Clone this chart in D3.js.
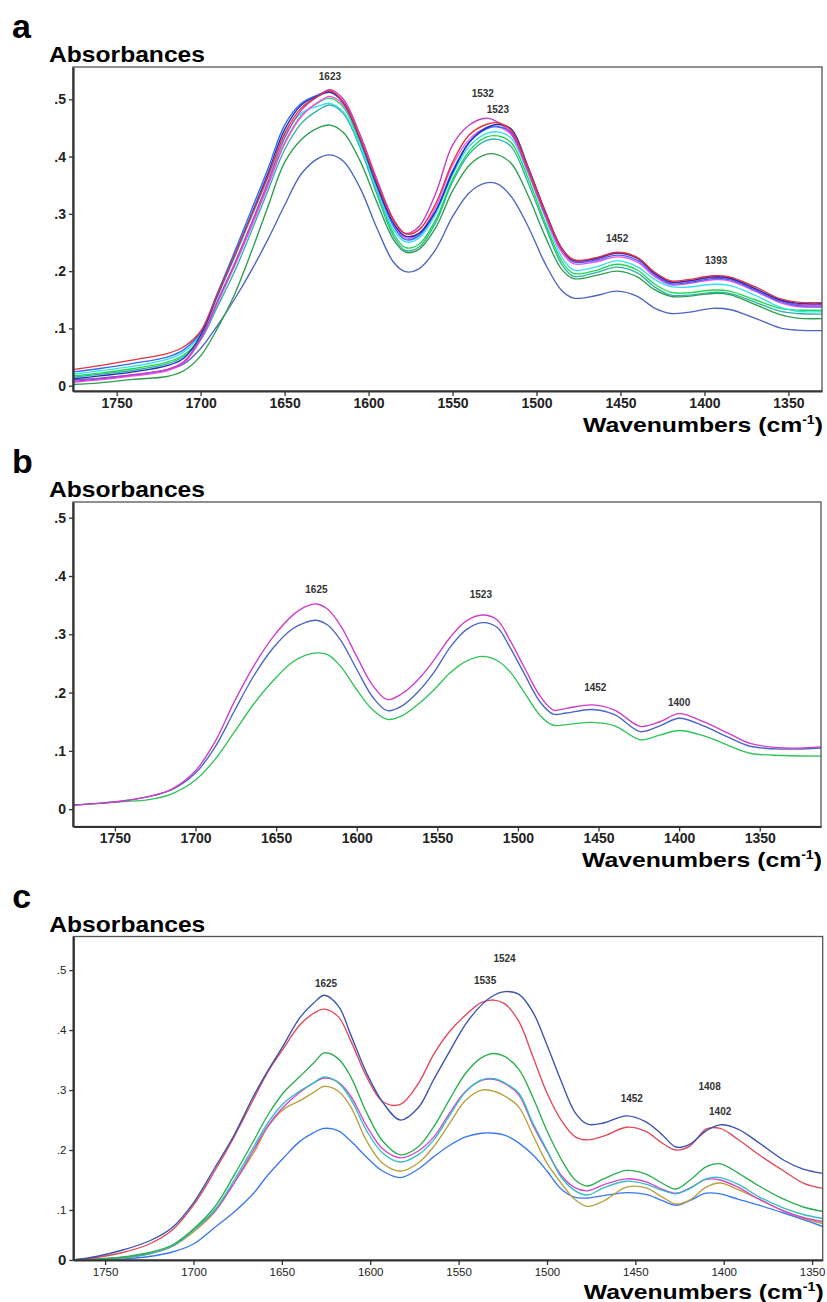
<!DOCTYPE html>
<html>
<head>
<meta charset="utf-8">
<script src="https://cdn.jsdelivr.net/npm/d3@7"></script>
<style>
  body { margin: 0; background: #fff; }
  text { font-family: Arial, 'Liberation Sans', sans-serif; }
</style>
</head>
<body>
<svg id="fig" width="827" height="1302"></svg>
<script>
'use strict';

/* global d3 */

// ---- panel a : wavenumbers (cm-1) and absorbance of each spectrum ----
var wavenumbersA = [1776, 1760, 1740, 1720, 1710, 1700, 1690, 1680, 1670, 1660, 1650, 1640, 1630, 1623,
  1615, 1605, 1595, 1585, 1578, 1570, 1560, 1550, 1540, 1530, 1523, 1515, 1505, 1495, 1485, 1478,
  1465, 1452, 1440, 1430, 1420, 1410, 1395, 1385, 1370, 1355, 1345, 1330];
var redA = [.028, .035, .045, .056, .068, .095, .160, .226, .295, .365, .440, .485, .505, .515,
  .495, .432, .355, .288, .265, .272, .318, .390, .438, .456, .459, .445, .380, .305, .240, .220,
  .223, .233, .224, .199, .183, .185, .192, .190, .173, .152, .146, .145];
var darkBlueA = [.012, .017, .024, .035, .048, .088, .158, .226, .297, .370, .447, .490, .506, .512,
  .494, .430, .350, .283, .261, .266, .305, .372, .425, .450, .456, .448, .382, .306, .240, .219,
  .222, .232, .223, .197, .181, .183, .190, .188, .170, .150, .144, .143];
var magentaA = [.008, .012, .019, .028, .042, .082, .148, .212, .282, .355, .432, .481, .506, .517,
  .500, .438, .360, .290, .266, .278, .336, .420, .455, .467, .460, .440, .375, .300, .237, .218,
  .221, .231, .222, .196, .180, .182, .189, .187, .169, .149, .142, .141];
var pinkA = [.006, .010, .017, .026, .040, .080, .145, .208, .276, .348, .422, .470, .495, .505,
  .490, .430, .352, .282, .258, .265, .312, .385, .430, .450, .452, .438, .373, .298, .233, .213,
  .216, .225, .216, .191, .176, .178, .185, .183, .165, .145, .138, .137];
var blueA = [.024, .030, .039, .050, .063, .093, .162, .232, .305, .378, .455, .493, .508, .513,
  .494, .430, .348, .278, .255, .262, .305, .375, .425, .448, .452, .442, .380, .305, .238, .216,
  .219, .228, .219, .194, .178, .180, .187, .185, .167, .147, .140, .139];
var cyanA = [.020, .026, .034, .046, .059, .090, .155, .222, .292, .362, .436, .476, .488, .493,
  .478, .420, .342, .272, .251, .258, .300, .368, .418, .440, .443, .432, .370, .295, .225, .202,
  .207, .218, .208, .186, .173, .172, .177, .175, .158, .137, .130, .129];
var greenLightA = [.017, .022, .030, .041, .054, .084, .145, .208, .278, .350, .424, .472, .494, .502,
  .486, .424, .340, .265, .241, .247, .290, .360, .410, .434, .436, .424, .362, .286, .218, .196,
  .201, .212, .202, .178, .163, .162, .167, .165, .150, .135, .132, .132];
var tealA = [.015, .020, .027, .038, .051, .080, .138, .198, .268, .340, .412, .458, .481, .490,
  .475, .415, .334, .260, .236, .242, .285, .356, .405, .428, .430, .417, .354, .280, .212, .191,
  .197, .207, .197, .173, .158, .158, .163, .161, .146, .130, .126, .125];
var greenA = [.002, .005, .011, .016, .026, .052, .100, .158, .232, .312, .390, .430, .450, .455,
  .442, .392, .320, .254, .233, .238, .276, .340, .385, .404, .403, .388, .332, .262, .203, .187,
  .192, .200, .190, .168, .156, .156, .161, .159, .142, .124, .118, .117];
var lowBlueA = [.010, .013, .019, .028, .038, .065, .105, .150, .200, .255, .315, .370, .397, .403,
  .392, .345, .275, .215, .199, .204, .238, .295, .337, .354, .352, .330, .278, .214, .166, .153,
  .157, .165, .156, .136, .126, .128, .135, .133, .118, .101, .097, .096];
var peakWavenumbersA = [1623, 1532, 1523, 1452, 1393];
var peakLabelLevelsA = [.539, .511, .483, .257, .218];

// ---- panel b ----
var wavenumbersB = [1776, 1760, 1745, 1730, 1715, 1700, 1688, 1676, 1664, 1652, 1640, 1632, 1625,
  1618, 1610, 1600, 1590, 1581, 1572, 1562, 1552, 1542, 1532, 1522, 1513, 1505, 1496, 1486, 1478,
  1470, 1454, 1440, 1424, 1412, 1400, 1385, 1370, 1356, 1335, 1312];
var magentaB = [.007, .010, .014, .021, .034, .066, .115, .184, .245, .295, .332, .347, .352,
  .343, .315, .262, .212, .188, .198, .222, .256, .295, .323, .333, .325, .290, .243, .193, .170,
  .173, .179, .170, .142, .150, .164, .150, .131, .113, .105, .107];
var blueB = [.007, .010, .014, .021, .033, .062, .106, .168, .228, .276, .309, .320, .324,
  .316, .290, .240, .192, .169, .177, .201, .235, .278, .308, .320, .312, .278, .232, .183, .163,
  .165, .171, .162, .133, .143, .156, .143, .124, .108, .103, .105];
var greenB = [.007, .010, .013, .016, .026, .050, .085, .132, .180, .220, .252, .264, .268,
  .265, .245, .205, .170, .154, .160, .180, .205, .234, .254, .262, .255, .236, .200, .160, .144,
  .145, .149, .143, .119, .127, .135, .126, .110, .096, .092, .091];
var peakWavenumbersB = [1625, 1523, 1452, 1400];
var peakLabelLevelsB = [.376, .369, .209, .183];

// ---- panel c ----
var wavenumbersC = [1768, 1755, 1740, 1725, 1712, 1700, 1688, 1677, 1666, 1658, 1649, 1640, 1632,
  1626, 1618, 1611, 1602, 1593, 1583, 1573, 1564, 1555, 1546, 1537, 1530, 1524, 1516, 1508, 1500,
  1492, 1484, 1477, 1468, 1455, 1444, 1435, 1427, 1419, 1410, 1402, 1392, 1380, 1366, 1355, 1344];
var darkBlueC = [.000, .007, .020, .038, .065, .112, .170, .225, .290, .332, .375, .420, .445,
  .458, .440, .392, .328, .280, .250, .270, .318, .365, .410, .442, .458, .464, .460, .430, .375,
  .315, .262, .243, .245, .257, .247, .226, .205, .210, .232, .242, .235, .212, .183, .168, .161];
var redC = [.000, .005, .015, .032, .060, .108, .165, .222, .285, .330, .370, .408, .428,
  .435, .422, .382, .322, .281, .276, .310, .360, .398, .425, .446, .450, .444, .415, .356, .295,
  .250, .222, .217, .223, .238, .231, .212, .200, .207, .235, .236, .218, .192, .165, .145, .136];
var greenC = [.000, .002, .006, .015, .030, .062, .105, .158, .215, .258, .296, .322, .345,
  .362, .352, .322, .262, .215, .192, .205, .239, .285, .328, .354, .361, .356, .335, .288, .232,
  .185, .150, .140, .152, .166, .160, .145, .135, .150, .172, .177, .162, .140, .118, .105, .097];
var tealC = [.000, .001, .005, .013, .028, .060, .100, .150, .205, .245, .278, .298, .312,
  .322, .312, .285, .232, .195, .180, .192, .217, .258, .297, .317, .319, .312, .295, .245, .200,
  .155, .132, .125, .137, .148, .143, .133, .127, .136, .152, .154, .143, .122, .103, .091, .083];
var magentaC = [.000, .001, .005, .013, .028, .060, .098, .145, .200, .240, .272, .296, .312,
  .320, .313, .290, .240, .202, .187, .198, .222, .262, .298, .316, .318, .311, .292, .242, .198,
  .158, .137, .132, .142, .152, .147, .135, .128, .137, .151, .150, .138, .118, .098, .085, .077];
var oliveC = [.000, .001, .004, .012, .027, .056, .096, .145, .195, .238, .268, .282, .296,
  .306, .298, .272, .215, .178, .165, .178, .206, .245, .283, .300, .298, .290, .272, .225, .178,
  .145, .117, .106, .115, .138, .137, .122, .110, .117, .138, .145, .134, .118, .098, .083, .073];
var lightBlueC = [.000, .000, .002, .007, .016, .032, .065, .096, .128, .158, .187, .214, .229,
  .236, .232, .215, .188, .165, .154, .168, .189, .208, .222, .228, .228, .225, .212, .192, .165,
  .135, .121, .120, .124, .129, .126, .116, .108, .116, .128, .127, .118, .108, .094, .081, .067];
var peakWavenumbersC = [1625, 1524, 1535, 1452, 1408, 1402];
var peakLabelLevelsC = [.478, .520, .482, .286, .306, .264];

// ---- shared tick labels ----
var absorbanceTicks = [0, .1, .2, .3, .4, .5];
var wavenumberTicks = [1750, 1700, 1650, 1600, 1550, 1500, 1450, 1400, 1350];

var FONT = 'Arial, \'Liberation Sans\', sans-serif';
var svg = d3.select('#fig');
svg.append('rect').attr('width', 827).attr('height', 1302).attr('fill', '#fff');

var panels = [
  {
    letter: 'a', top: 67, bottom: 391, left: 73, right: 822,
    xDomain: [1776, 1330], yDomain: [-0.0093, 0.5564],
    wn: wavenumbersA,
    series: [
      {values: lowBlueA, color: '#4a66c2'},
      {values: greenA, color: '#2b9f4c'},
      {values: tealA, color: '#2fb0a6'},
      {values: greenLightA, color: '#1fd84a'},
      {values: cyanA, color: '#2fe2f2'},
      {values: pinkA, color: '#f24cf0'},
      {values: blueA, color: '#2f6cf6'},
      {values: magentaA, color: '#c43cc6'},
      {values: darkBlueA, color: '#1e2db8'},
      {values: redA, color: '#e2323c'}
    ],
    peaks: peakWavenumbersA, peakLevels: peakLabelLevelsA,
    tickStyle: {size: 14, weight: 'bold'}, titleGap: 41
  },
  {
    letter: 'b', top: 502, bottom: 826.5, left: 73, right: 821,
    xDomain: [1776, 1312], yDomain: [-0.0297, 0.5269],
    wn: wavenumbersB,
    series: [
      {values: greenB, color: '#2fc455'},
      {values: blueB, color: '#4866c6'},
      {values: magentaB, color: '#d03cc8'}
    ],
    peaks: peakWavenumbersB, peakLevels: peakLabelLevelsB,
    tickStyle: {size: 14, weight: 'bold'}, titleGap: 40
  },
  {
    letter: 'c', top: 936.5, bottom: 1260, left: 73.3, right: 822.7,
    xDomain: [1768, 1344], yDomain: [0, 0.1, 0.556],
    wn: wavenumbersC,
    series: [
      {values: lightBlueC, color: '#3a78f2'},
      {values: oliveC, color: '#b9a03c'},
      {values: magentaC, color: '#d644d2'},
      {values: tealC, color: '#2ec0c0'},
      {values: greenC, color: '#2ab04e'},
      {values: redC, color: '#e2485a'},
      {values: darkBlueC, color: '#3853b0'}
    ],
    peaks: peakWavenumbersC, peakLevels: peakLabelLevelsC,
    tickStyle: {size: 11.5, weight: 'normal'}, titleGap: 39
  }
];

function absorbanceFormat(d) {
  return d === 0 ? '0' : d3.format('.1f')(d).replace(/^0/, '');
}

function drawPanel(p) {
  var g = svg.append('g').attr('class', 'panel-' + p.letter);
  var x = d3.scaleLinear().domain(p.xDomain).range([p.left, p.right]);
  var y = d3.scaleLinear().domain(p.yDomain);
  if (p.yDomain.length === 3) {
    // the 0 - .1 step of this panel is drawn shorter than the others
    y.range([p.bottom, p.bottom - 50, p.top]);
  } else {
    y.range([p.bottom, p.top]);
  }

  g.append('clipPath').attr('id', 'clip-' + p.letter)
    .append('rect')
    .attr('x', p.left).attr('y', p.top)
    .attr('width', p.right - p.left).attr('height', p.bottom - p.top);

  // spectra
  var line = d3.line()
    .x(function(d, i) { return x(p.wn[i]); })
    .y(function(d) { return y(d); })
    .curve(d3.curveCatmullRom.alpha(0.5));

  g.append('g')
    .attr('clip-path', 'url(#clip-' + p.letter + ')')
    .selectAll('path')
    .data(p.series)
    .join('path')
    .attr('d', function(s) { return line(s.values); })
    .attr('fill', 'none')
    .attr('stroke', function(s) { return s.color; })
    .attr('stroke-width', 1.35)
    .attr('stroke-linejoin', 'round');

  // frame
  g.append('rect')
    .attr('x', p.left).attr('y', p.top)
    .attr('width', p.right - p.left).attr('height', p.bottom - p.top)
    .attr('fill', 'none')
    .attr('stroke', '#555')
    .attr('stroke-width', 1.3);

  // axes
  var xTicks = wavenumberTicks.filter(function(t) {
    return t <= p.xDomain[0] && t >= p.xDomain[1];
  });
  var xAxis = d3.axisBottom(x).tickValues(xTicks).tickFormat(d3.format('d'))
    .tickSize(5).tickSizeOuter(0).tickPadding(p.letter === 'c' ? 3 : 2);
  var yAxis = d3.axisLeft(y).tickValues(absorbanceTicks).tickFormat(absorbanceFormat)
    .tickSize(4).tickSizeOuter(0).tickPadding(3);

  var gx = g.append('g').attr('transform', 'translate(0,' + p.bottom + ')').call(xAxis);
  var gy = g.append('g').attr('transform', 'translate(' + p.left + ',0)').call(yAxis);

  [gx, gy].forEach(function(ax) {
    ax.select('.domain').attr('stroke', '#333').attr('stroke-width', 2.2);
    ax.selectAll('.tick line').attr('stroke', '#333').attr('stroke-width', 1.3);
    ax.selectAll('.tick text')
      .attr('fill', '#222')
      .style('font-family', FONT)
      .style('font-size', p.tickStyle.size + 'px')
      .style('font-weight', p.tickStyle.weight);
  });
  if (p.letter === 'c') {
    gy.selectAll('.tick text')
      .filter(function(d) { return d === 0; })
      .style('font-size', '15px')
      .style('font-weight', 'bold');
  }

  // peak annotations
  g.selectAll('text.peak')
    .data(p.peaks)
    .join('text')
    .attr('class', 'peak')
    .attr('x', function(d) { return x(d); })
    .attr('y', function(d, i) { return y(p.peakLevels[i]); })
    .attr('dy', '0.35em')
    .attr('text-anchor', 'middle')
    .attr('fill', '#333')
    .style('font-size', '10px')
    .style('font-weight', 'bold')
    .text(function(d) { return d; });

  // panel letter and axis titles
  g.append('text')
    .attr('x', p.left - 61).attr('y', p.top - 29)
    .style('font-size', '34px')
    .style('font-weight', 'bold')
    .text(p.letter);

  g.append('text')
    .attr('x', p.left - 24).attr('y', p.top - 5)
    .attr('textLength', 156)
    .attr('lengthAdjust', 'spacingAndGlyphs')
    .style('font-size', '22px')
    .style('font-weight', 'bold')
    .text('Absorbances');

  var wt = g.append('text')
    .attr('x', p.right + 1).attr('y', p.bottom + p.titleGap)
    .attr('text-anchor', 'end')
    .attr('textLength', 240)
    .attr('lengthAdjust', 'spacingAndGlyphs')
    .style('font-size', '21px')
    .style('font-weight', 'bold');
  wt.append('tspan').text('Wavenumbers (cm');
  wt.append('tspan').attr('dy', -8).style('font-size', '12px').text('-1');
  wt.append('tspan').attr('dy', 8).text(')');
}

panels.forEach(drawPanel);
</script>
</body>
</html>
